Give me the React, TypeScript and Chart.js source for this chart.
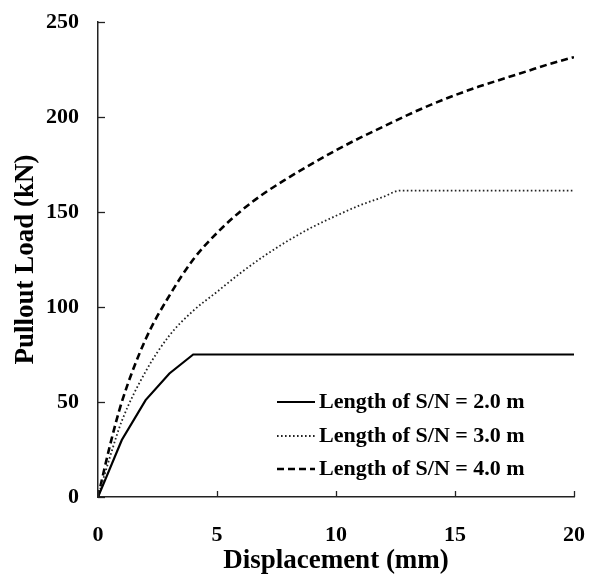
import React, { useEffect, useRef } from 'react';
import { Chart, registerables } from 'chart.js';

Chart.register(...registerables);

const disp2 = [0, 1, 2, 3, 4, 20];
const load2 = [0, 30, 51, 65, 75, 75];

const disp3 = [0, 0.5, 1, 2, 3, 4, 5, 6, 7, 8, 9, 10, 11, 12, 12.7, 20];
const load3 = [0, 21, 40, 66, 85, 98, 108, 118, 127, 135, 142, 148, 153.5, 158, 161.3, 161.3];

const disp4 = [0, 0.5, 1, 2, 3, 4, 5, 6, 7, 8, 9, 10, 11, 12, 13, 14, 15, 16, 17, 18, 19, 20];
const load4 = [0, 27, 50, 83, 106, 125, 139, 150.5, 160, 168, 175.5, 182.5, 189, 195, 201, 206.5, 211.5, 216, 220, 224, 228, 231.5];

const seriesLabels = ['Length of S/N = 2.0 m', 'Length of S/N = 3.0 m', 'Length of S/N = 4.0 m'];
const xTicks = [0, 5, 10, 15, 20];
const yTicks = [0, 50, 100, 150, 200, 250];

const FONT = "'Liberation Serif', 'Times New Roman', serif";

const toPts = (xs: number[], ys: number[]) => xs.map((x, i) => ({ x, y: ys[i] }));

const innerTicksAndLegend = {
  id: 'innerTicksAndLegend',
  afterDraw(chart: any) {
    const { ctx, chartArea, scales } = chart;
    const x = scales.x;
    const y = scales.y;
    ctx.save();
    ctx.strokeStyle = '#222';
    ctx.lineWidth = 1.3;
    ctx.setLineDash([]);
    for (const v of xTicks) {
      const px = Math.round(x.getPixelForValue(v)) + 0.5;
      ctx.beginPath();
      ctx.moveTo(px, chartArea.bottom);
      ctx.lineTo(px, chartArea.bottom - 6);
      ctx.stroke();
    }
    for (const v of yTicks) {
      const py = Math.round(y.getPixelForValue(v)) + 0.5;
      ctx.beginPath();
      ctx.moveTo(chartArea.left, py);
      ctx.lineTo(chartArea.left + 7, py);
      ctx.stroke();
    }
    // legend
    const rows = [402, 436, 469];
    const x0 = 277;
    const x1 = 315;
    chart.data.datasets.forEach((ds: any, i: number) => {
      const yy = rows[i];
      ctx.strokeStyle = ds.borderColor;
      ctx.lineWidth = ds.borderWidth;
      ctx.setLineDash(ds.borderDash || []);
      ctx.beginPath();
      ctx.moveTo(x0, yy);
      ctx.lineTo(x1, yy);
      ctx.stroke();
      ctx.setLineDash([]);
      ctx.fillStyle = '#000';
      ctx.font = `bold 22px ${FONT}`;
      ctx.textAlign = 'left';
      ctx.textBaseline = 'middle';
      ctx.fillText(ds.label, 319, yy);
    });
    ctx.restore();
  },
};

export default function App() {
  const ref = useRef<HTMLCanvasElement>(null);
  useEffect(() => {
    if (!ref.current) return;
    const chart = new Chart(ref.current, {
      type: 'line',
      data: {
        datasets: [
          {
            label: seriesLabels[0],
            data: toPts(disp2, load2),
            borderColor: '#000',
            borderWidth: 2.2,
            pointRadius: 0,
            tension: 0,
          },
          {
            label: seriesLabels[1],
            data: toPts(disp3, load3),
            borderColor: '#222',
            borderWidth: 1.8,
            borderDash: [1.6, 2.4],
            pointRadius: 0,
            cubicInterpolationMode: 'monotone',
          },
          {
            label: seriesLabels[2],
            data: toPts(disp4, load4),
            borderColor: '#000',
            borderWidth: 2.6,
            borderDash: [7, 4],
            pointRadius: 0,
            cubicInterpolationMode: 'monotone',
          },
        ],
      },
      options: {
        animation: false,
        responsive: true,
        maintainAspectRatio: false,
        layout: { padding: { left: 0, right: 23, top: 22, bottom: 0 } },
        plugins: { legend: { display: false }, tooltip: { enabled: false } },
        scales: {
          x: {
            type: 'linear',
            min: 0,
            max: 20,
            afterFit: (s: any) => {
              s.height = 82;
              s.paddingLeft = 0;
              s.paddingRight = 0;
            },
            afterBuildTicks: (s: any) => { s.ticks = xTicks.map((v) => ({ value: v })); },
            grid: { display: false, drawTicks: false, tickLength: 0 },
            border: { display: true, color: '#222', width: 1.5 },
            ticks: {
              padding: 25,
              color: '#000',
              font: { family: FONT, size: 22, weight: 'bold' },
              maxRotation: 0,
            },
            title: {
              display: true,
              text: 'Displacement (mm)',
              color: '#000',
              font: { family: FONT, size: 27, weight: 'bold', lineHeight: 1 },
              padding: { top: 0, bottom: 4 },
            },
          },
          y: {
            type: 'linear',
            min: 0,
            max: 250,
            afterFit: (s: any) => {
              s.width = 98;
              s.paddingTop = 0;
              s.paddingBottom = 0;
            },
            afterBuildTicks: (s: any) => { s.ticks = yTicks.map((v) => ({ value: v })); },
            grid: { display: false, drawTicks: false, tickLength: 0 },
            border: { display: true, color: '#222', width: 1.5 },
            ticks: {
              padding: 19,
              color: '#000',
              font: { family: FONT, size: 22, weight: 'bold' },
            },
            title: {
              display: true,
              text: 'Pullout Load (kN)',
              color: '#000',
              font: { family: FONT, size: 27, weight: 'bold', lineHeight: 1 },
              padding: { top: 13, bottom: 0 },
            },
          },
        },
      },
      plugins: [innerTicksAndLegend],
    } as any);
    return () => chart.destroy();
  }, []);
  return (
    <div style={{ position: 'fixed', left: 0, top: 0, width: 597, height: 579, background: '#fff' }}>
      <canvas ref={ref} />
    </div>
  );
}
